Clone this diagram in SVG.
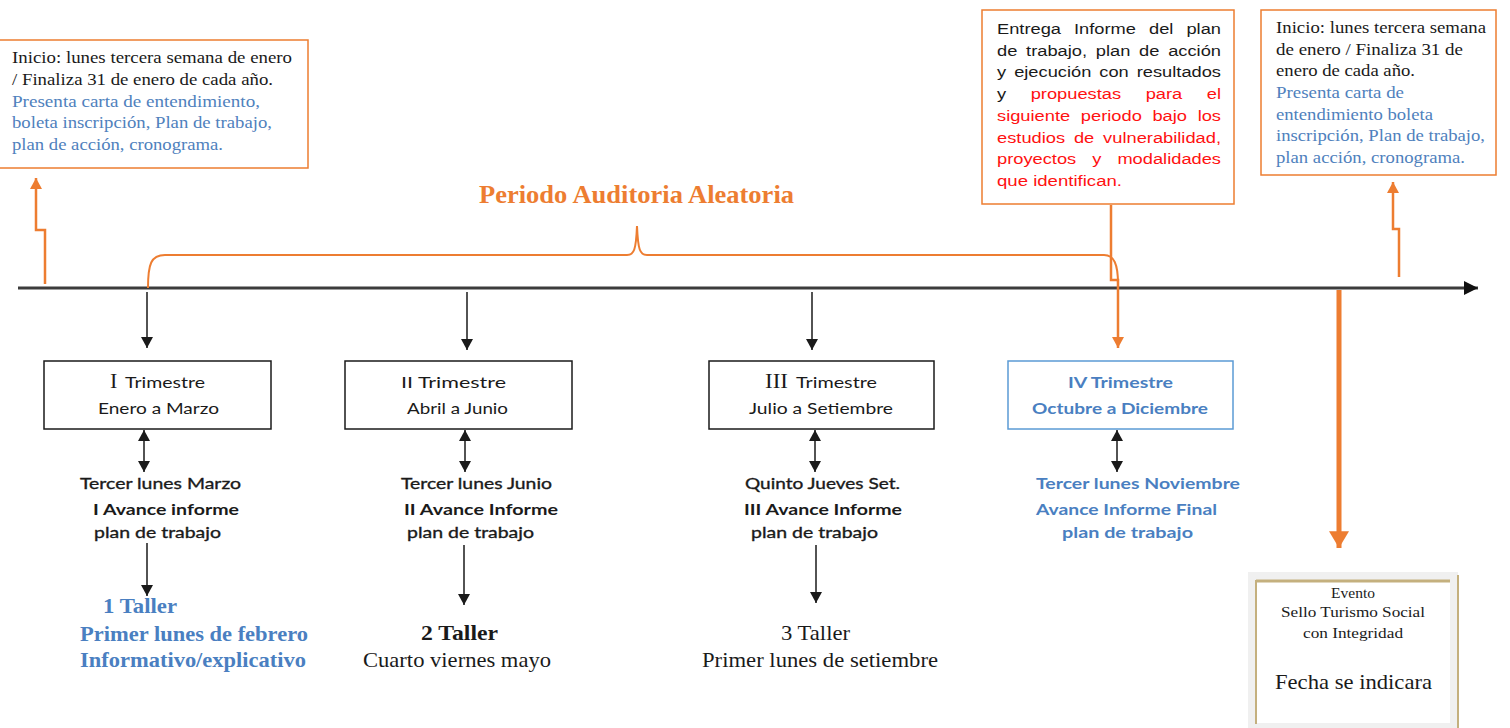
<svg xmlns="http://www.w3.org/2000/svg" width="1510" height="728" viewBox="0 0 1510 728">
<style>
.sf{font-family:"Liberation Serif","Times New Roman",serif}
.sn{font-family:Lato,"Liberation Sans",Arial,sans-serif}
.ar{font-family:"Liberation Sans",Arial,sans-serif}
.ob{fill:#fff;stroke:#ED7D31;stroke-width:1.5}
.kb{fill:#fff;stroke:#1a1a1a;stroke-width:1.5}
.bb{fill:#fff;stroke:#5B9BD5;stroke-width:1.5}
.dk{fill:#1a1a1a}
.bl{fill:#4F81BD}
.bt{fill:#4A7FC1}
.rd{fill:#FF1111}
.semi{stroke:#1a1a1a;stroke-width:0.35}
.ka{stroke:#1a1a1a;stroke-width:1.5;fill:none}
.oa{stroke:#ED7D31;stroke-width:2.5;fill:none}
</style>
<defs>
<marker id="ah" markerUnits="userSpaceOnUse" markerWidth="12" markerHeight="12" refX="10" refY="5.5" orient="auto-start-reverse" viewBox="0 0 10 11"><path d="M0,0 L10,5.5 L0,11 z" fill="#1a1a1a"/></marker>
<marker id="ahT" markerUnits="userSpaceOnUse" markerWidth="14" markerHeight="14" refX="12" refY="6" orient="auto" viewBox="0 0 12 12"><path d="M0,0 L12,6 L0,12 z" fill="#111"/></marker>
<marker id="ahO" markerUnits="userSpaceOnUse" markerWidth="12" markerHeight="12" refX="10" refY="5.5" orient="auto" viewBox="0 0 10 11"><path d="M0,0 L10,5.5 L0,11 z" fill="#ED7D31"/></marker>
<marker id="ahOB" markerUnits="userSpaceOnUse" markerWidth="18" markerHeight="20" refX="16" refY="9.5" orient="auto" viewBox="0 0 16 19"><path d="M0,0 L16,9.5 L0,19 z" fill="#ED7D31"/></marker>
</defs>
<rect width="1510" height="728" fill="#fff"/>

<g id="connectors">
  <line x1="18" y1="288" x2="1478" y2="288" stroke="#3c3c3c" stroke-width="3" marker-end="url(#ahT)"/>
  <path class="oa" d="M45,284 L45,230 L36,230 L36,178" marker-end="url(#ahO)"/>
  <path class="oa" d="M1399,277 L1399,229 L1393,229 L1393,182" marker-end="url(#ahO)"/>
  <path d="M148,288 C148,264 151,255 165,255 L627,255 C634,255 636,250 637,226 C638,250 640,255 647,255 L1104,255 C1114,255 1118,264 1118,284" fill="none" stroke="#ED7D31" stroke-width="2"/>
  <path class="oa" d="M1111,205 L1111,280 L1118,280 L1118,348" stroke-width="2" marker-end="url(#ahO)"/>
  <line x1="1339" y1="290" x2="1339" y2="548" stroke="#ED7D31" stroke-width="5" marker-end="url(#ahOB)"/>
  <line class="ka" x1="147" y1="292" x2="147" y2="348" marker-end="url(#ah)"/>
  <line class="ka" x1="467" y1="292" x2="467" y2="350" marker-end="url(#ah)"/>
  <line class="ka" x1="812" y1="292" x2="812" y2="350" marker-end="url(#ah)"/>
  <line class="ka" x1="144" y1="430" x2="144" y2="472" marker-start="url(#ah)" marker-end="url(#ah)"/>
  <line class="ka" x1="465" y1="430" x2="465" y2="472" marker-start="url(#ah)" marker-end="url(#ah)"/>
  <line class="ka" x1="815" y1="430" x2="815" y2="472" marker-start="url(#ah)" marker-end="url(#ah)"/>
  <line class="ka" x1="1117" y1="430" x2="1117" y2="472" marker-start="url(#ah)" marker-end="url(#ah)"/>
  <line class="ka" x1="147" y1="543" x2="147" y2="596" marker-end="url(#ah)"/>
  <line class="ka" x1="464" y1="545" x2="464" y2="605" marker-end="url(#ah)"/>
  <line class="ka" x1="816" y1="545" x2="816" y2="603" marker-end="url(#ah)"/>
</g>

<g id="inicio-izq">
  <rect class="ob" x="-1" y="40" width="309" height="128"/>
  <text class="sf dk" font-size="17" x="12" y="63" textLength="280" lengthAdjust="spacingAndGlyphs">Inicio: lunes tercera semana de enero</text>
  <text class="sf dk" font-size="17" x="12" y="85" textLength="261" lengthAdjust="spacingAndGlyphs">/ Finaliza 31 de enero de cada año.</text>
  <text class="sf bl" font-size="17" x="12" y="107" textLength="248" lengthAdjust="spacingAndGlyphs">Presenta carta de entendimiento,</text>
  <text class="sf bl" font-size="17" x="12" y="128" textLength="260" lengthAdjust="spacingAndGlyphs">boleta inscripción, Plan de trabajo,</text>
  <text class="sf bl" font-size="17" x="12" y="150" textLength="211" lengthAdjust="spacingAndGlyphs">plan de acción, cronograma.</text>
</g>

<g id="titulo">
  <text class="sf" font-size="25" font-weight="bold" fill="#ED7D31" x="479" y="203" textLength="315" lengthAdjust="spacingAndGlyphs">Periodo Auditoria Aleatoria</text>
</g>

<g id="entrega-informe">
  <rect class="ob" x="982" y="10" width="252" height="194"/>
  <text class="ar dk" font-size="15.5" x="997" y="34" word-spacing="6.8" textLength="224" lengthAdjust="spacingAndGlyphs">Entrega Informe del plan</text>
  <text class="ar dk" font-size="15.5" x="997" y="56" word-spacing="3.1" textLength="224" lengthAdjust="spacingAndGlyphs">de trabajo, plan de acción</text>
  <text class="ar dk" font-size="15.5" x="997" y="77" word-spacing="2.5" textLength="224" lengthAdjust="spacingAndGlyphs">y ejecución con resultados</text>
  <text class="ar dk" font-size="15.5" x="997" y="99" word-spacing="16.5" textLength="224" lengthAdjust="spacingAndGlyphs">y <tspan class="rd">propuestas para el</tspan></text>
  <text class="ar rd" font-size="15.5" x="997" y="121" word-spacing="4.7" textLength="224" lengthAdjust="spacingAndGlyphs">siguiente periodo bajo los</text>
  <text class="ar rd" font-size="15.5" x="997" y="143" word-spacing="3.2" textLength="224" lengthAdjust="spacingAndGlyphs">estudios de vulnerabilidad,</text>
  <text class="ar rd" font-size="15.5" x="997" y="164" word-spacing="9.3" textLength="224" lengthAdjust="spacingAndGlyphs">proyectos y modalidades</text>
  <text class="ar rd" font-size="15.5" x="997" y="186" textLength="125" lengthAdjust="spacingAndGlyphs">que identifican.</text>
</g>

<g id="inicio-der">
  <rect class="ob" x="1261" y="10" width="235" height="165"/>
  <text class="sf dk" font-size="17" x="1276" y="33" textLength="210" lengthAdjust="spacingAndGlyphs">Inicio: lunes tercera semana</text>
  <text class="sf dk" font-size="17" x="1276" y="55" textLength="187" lengthAdjust="spacingAndGlyphs">de enero / Finaliza 31 de</text>
  <text class="sf dk" font-size="17" x="1276" y="76" textLength="139" lengthAdjust="spacingAndGlyphs">enero de cada año.</text>
  <text class="sf bl" font-size="17" x="1276" y="98" textLength="128" lengthAdjust="spacingAndGlyphs">Presenta carta de</text>
  <text class="sf bl" font-size="17" x="1276" y="120" textLength="157" lengthAdjust="spacingAndGlyphs">entendimiento boleta</text>
  <text class="sf bl" font-size="17" x="1276" y="141" textLength="209" lengthAdjust="spacingAndGlyphs">inscripción, Plan de trabajo,</text>
  <text class="sf bl" font-size="17" x="1276" y="163" textLength="189" lengthAdjust="spacingAndGlyphs">plan acción, cronograma.</text>
</g>

<g id="trimestre-1">
  <rect class="kb" x="44" y="361" width="227" height="68"/>
  <text class="sf dk" font-size="22" x="110" y="388">I</text>
  <text class="sn dk" font-size="16" x="125" y="388" textLength="80" lengthAdjust="spacingAndGlyphs">Trimestre</text>
  <text class="sn dk" font-size="16" x="98" y="414" textLength="121" lengthAdjust="spacingAndGlyphs">Enero a Marzo</text>
  <text class="sn dk semi" font-size="16" x="80" y="489" textLength="161" lengthAdjust="spacingAndGlyphs">Tercer lunes Marzo</text>
  <text class="sn dk" font-size="16" font-weight="bold" x="93" y="515" textLength="146" lengthAdjust="spacingAndGlyphs">I Avance informe</text>
  <text class="sn dk semi" font-size="16" x="94" y="538" textLength="127" lengthAdjust="spacingAndGlyphs">plan de trabajo</text>
  <text class="sf bt" font-size="21" font-weight="bold" x="103" y="613" textLength="74" lengthAdjust="spacingAndGlyphs">1 Taller</text>
  <text class="sf bt" font-size="21" font-weight="bold" x="80" y="641" textLength="228" lengthAdjust="spacingAndGlyphs">Primer lunes de febrero</text>
  <text class="sf bt" font-size="21" font-weight="bold" x="80" y="667" textLength="226" lengthAdjust="spacingAndGlyphs">Informativo/explicativo</text>
</g>

<g id="trimestre-2">
  <rect class="kb" x="345" y="361" width="227" height="68"/>
  <text class="sn dk" font-size="16" x="401" y="388" textLength="105" lengthAdjust="spacingAndGlyphs">II Trimestre</text>
  <text class="sn dk" font-size="16" x="407" y="414" textLength="101" lengthAdjust="spacingAndGlyphs">Abril a Junio</text>
  <text class="sn dk semi" font-size="16" x="401" y="489" textLength="151" lengthAdjust="spacingAndGlyphs">Tercer lunes Junio</text>
  <text class="sn dk" font-size="16" font-weight="bold" x="404" y="515" textLength="154" lengthAdjust="spacingAndGlyphs">II Avance Informe</text>
  <text class="sn dk semi" font-size="16" x="407" y="538" textLength="127" lengthAdjust="spacingAndGlyphs">plan de trabajo</text>
  <text class="sf dk" font-size="21" font-weight="bold" x="421" y="640" textLength="77" lengthAdjust="spacingAndGlyphs">2 Taller</text>
  <text class="sf dk" font-size="21" x="363" y="667" textLength="188" lengthAdjust="spacingAndGlyphs">Cuarto viernes mayo</text>
</g>

<g id="trimestre-3">
  <rect class="kb" x="709" y="361" width="225" height="68"/>
  <text class="sf dk" font-size="22" x="765" y="388" textLength="23" lengthAdjust="spacingAndGlyphs">III</text>
  <text class="sn dk" font-size="16" x="796" y="388" textLength="81" lengthAdjust="spacingAndGlyphs">Trimestre</text>
  <text class="sn dk" font-size="16" x="749" y="414" textLength="144" lengthAdjust="spacingAndGlyphs">Julio a Setiembre</text>
  <text class="sn dk semi" font-size="16" x="745" y="489" textLength="155" lengthAdjust="spacingAndGlyphs">Quinto Jueves Set.</text>
  <text class="sn dk" font-size="16" font-weight="bold" x="744" y="515" textLength="158" lengthAdjust="spacingAndGlyphs">III Avance Informe</text>
  <text class="sn dk semi" font-size="16" x="751" y="538" textLength="127" lengthAdjust="spacingAndGlyphs">plan de trabajo</text>
  <text class="sf dk" font-size="21" x="781" y="640" textLength="69" lengthAdjust="spacingAndGlyphs">3 Taller</text>
  <text class="sf dk" font-size="21" x="702" y="667" textLength="236" lengthAdjust="spacingAndGlyphs">Primer lunes de setiembre</text>
</g>

<g id="trimestre-4">
  <rect class="bb" x="1008" y="361" width="225" height="68"/>
  <text class="sn bt" font-size="16" font-weight="bold" x="1068" y="388" textLength="105" lengthAdjust="spacingAndGlyphs">IV Trimestre</text>
  <text class="sn bt" font-size="16" font-weight="bold" x="1032" y="414" textLength="176" lengthAdjust="spacingAndGlyphs">Octubre a Diciembre</text>
  <text class="sn bt" font-size="16" font-weight="bold" x="1036" y="489" textLength="204" lengthAdjust="spacingAndGlyphs">Tercer lunes Noviembre</text>
  <text class="sn bt" font-size="16" font-weight="bold" x="1036" y="515" textLength="181" lengthAdjust="spacingAndGlyphs">Avance Informe Final</text>
  <text class="sn bt" font-size="16" font-weight="bold" x="1062" y="538" textLength="131" lengthAdjust="spacingAndGlyphs">plan de trabajo</text>
</g>

<g id="evento">
  <rect x="1248" y="572" width="210" height="156" fill="#f0f0f0"/>
  <rect x="1257" y="581" width="193" height="142" fill="#fff"/>
  <line x1="1256" y1="581" x2="1450" y2="581" stroke="#C4B07E" stroke-width="3"/>
  <line x1="1256" y1="580" x2="1256" y2="724" stroke="#C4B07E" stroke-width="2"/>
  <line x1="1458" y1="575" x2="1458" y2="728" stroke="#C4B07E" stroke-width="2"/>
  <text class="sf dk" font-size="15.5" x="1353" y="598" text-anchor="middle">Evento</text>
  <text class="sf dk" font-size="15.5" x="1281" y="617" textLength="144" lengthAdjust="spacingAndGlyphs">Sello Turismo Social</text>
  <text class="sf dk" font-size="15.5" x="1303" y="638" textLength="100" lengthAdjust="spacingAndGlyphs">con Integridad</text>
  <text class="sf dk" font-size="22" x="1275" y="689" textLength="157" lengthAdjust="spacingAndGlyphs">Fecha se indicara</text>
</g>
</svg>
